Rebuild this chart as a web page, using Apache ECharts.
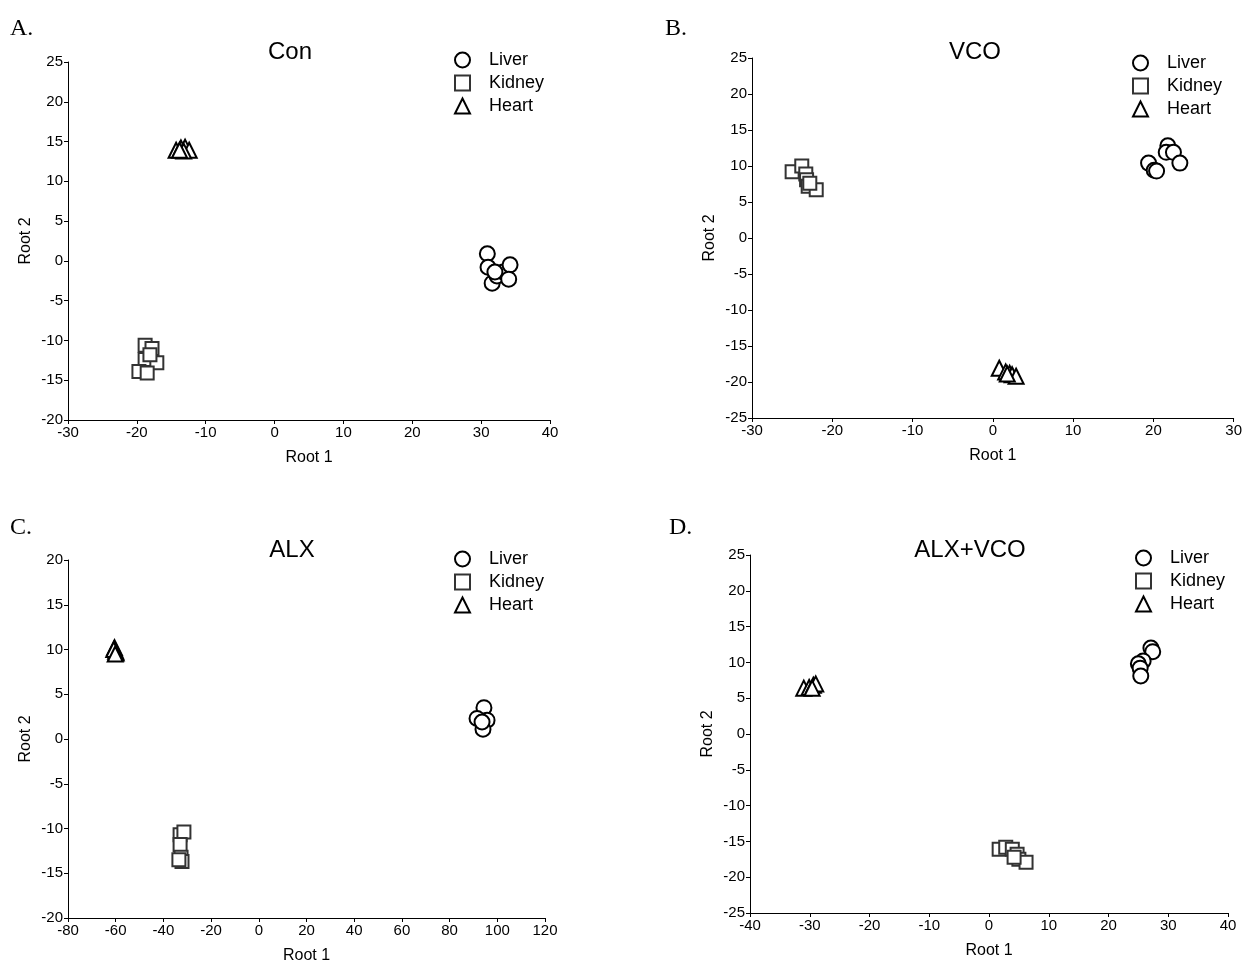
<!DOCTYPE html>
<html><head><meta charset="utf-8">
<script src="https://cdn.jsdelivr.net/npm/echarts@6/dist/echarts.min.js"></script>
<style>html,body{margin:0;padding:0;background:#fff}#c{width:1245px;height:970px}</style>
</head><body><div id="c"></div>
<script>
// ---- data ----
const panelLetters = ['A.', 'B.', 'C.', 'D.'];
const panelTitles = ['Con', 'VCO', 'ALX', 'ALX+VCO'];
const groupNames = ['Liver', 'Kidney', 'Heart'];
const xAxisName = 'Root 1';
const yAxisName = 'Root 2';

const conLiver  = [[30.9,0.9],[31.0,-0.8],[31.6,-2.8],[32.3,-1.9],[33.2,-1.4],[34.2,-0.5],[34.0,-2.3],[32.0,-1.4]];
const conKidney = [[-18.8,-10.6],[-17.8,-11.0],[-18.8,-12.4],[-17.1,-12.8],[-19.7,-13.9],[-18.5,-14.1],[-18.1,-11.8]];
const conHeart  = [[-14.3,13.9],[-13.6,14.2],[-13.0,14.3],[-12.4,13.9],[-13.2,13.8],[-13.8,13.9]];

const vcoLiver  = [[19.4,10.4],[20.1,9.4],[20.4,9.3],[21.8,12.8],[21.6,11.9],[22.5,11.9],[23.3,10.4]];
const vcoKidney = [[-25.0,9.2],[-23.8,10.0],[-23.3,8.9],[-23.2,8.1],[-23.0,7.2],[-22.0,6.7],[-22.8,7.6]];
const vcoHeart  = [[0.8,-18.1],[1.6,-18.6],[2.1,-18.8],[2.4,-19.0],[2.9,-19.2],[1.8,-18.9]];

const alxLiver  = [[94.4,3.5],[91.5,2.3],[95.7,2.1],[94.0,1.1],[93.6,1.9]];
const alxKidney = [[-33.0,-10.7],[-31.4,-10.4],[-33.0,-11.8],[-32.6,-13.2],[-32.2,-13.7],[-33.5,-13.5]];
const alxHeart  = [[-60.5,10.2],[-60.0,9.8],[-59.8,9.6],[-60.8,10.0],[-60.2,9.5]];

const avLiver   = [[27.1,12.0],[27.4,11.5],[25.8,10.2],[25.0,9.8],[25.3,9.2],[25.4,8.1]];
const avKidney  = [[1.7,-16.1],[2.8,-15.8],[3.9,-16.1],[4.7,-16.8],[5.0,-17.5],[6.2,-17.9],[4.2,-17.2]];
const avHeart   = [[-31.0,6.4],[-30.1,6.5],[-29.4,6.8],[-29.0,7.0],[-29.6,6.4]];

const xRanges = [[-30,40,10],[-30,30,10],[-80,120,20],[-40,40,10]];
const yRanges = [[-20,25,5],[-25,25,5],[-20,20,5],[-25,25,5]];
const panelData = [
  [conLiver, conKidney, conHeart],
  [vcoLiver, vcoKidney, vcoHeart],
  [alxLiver, alxKidney, alxHeart],
  [avLiver, avKidney, avHeart]
];

// ---- layout ----
const grids = [
  {left: 68, top: 62, width: 482, height: 358},
  {left: 752, top: 58, width: 483, height: 360},
  {left: 68, top: 560, width: 477, height: 358},
  {left: 750, top: 555, width: 478, height: 358}
];
const letterPos = [[5,12],[660,12],[5,511],[664,511]];
const titlePos = [[285,35],[970,35],[287,533],[965,533]];
const legendPos = [[449,46],[1127,49],[449,545],[1130,544]];

const symbols = ['emptyCircle', 'emptyRect', 'emptyTriangle'];
const symbolSizes = [15, 13, 15];
const colors = ['#000', '#333', '#000'];

const FONT = 'Liberation Sans, Arial, sans-serif';
const axisCommon = {
  axisLine: {show: true, onZero: false, lineStyle: {color: '#000', width: 1}},
  axisTick: {show: true, inside: false, length: 4, lineStyle: {color: '#000'}},
  axisLabel: {color: '#000', fontSize: 15, fontFamily: FONT, margin: 5},
  splitLine: {show: false},
  nameTextStyle: {color: '#000', fontSize: 16, fontFamily: FONT}
};

const option = {
  backgroundColor: '#fff',
  animation: false,
  grid: grids.map(g => Object.assign({containLabel: false}, g)),
  title: [],
  legend: [],
  xAxis: [],
  yAxis: [],
  series: []
};

for (let i = 0; i < 4; i++) {
  option.title.push({
    text: panelLetters[i], left: letterPos[i][0], top: letterPos[i][1],
    textStyle: {fontFamily: 'Liberation Serif, Times New Roman, serif', fontSize: 24, fontWeight: 'normal', color: '#000'}
  });
  option.title.push({
    text: panelTitles[i], left: titlePos[i][0], top: titlePos[i][1], textAlign: 'center',
    textStyle: {fontFamily: FONT, fontSize: 24, fontWeight: 'normal', color: '#000'}
  });
  option.legend.push({
    left: legendPos[i][0], top: legendPos[i][1], orient: 'vertical',
    itemWidth: 15, itemHeight: 15, itemGap: 5,
    data: groupNames.slice(),
    textStyle: {fontFamily: FONT, fontSize: 18, color: '#000', padding: [0,0,0,14]},
    selectedMode: false
  });
  option.xAxis.push(Object.assign({}, axisCommon, {
    gridIndex: i, type: 'value', min: xRanges[i][0], max: xRanges[i][1], interval: xRanges[i][2],
    name: xAxisName, nameLocation: 'middle', nameGap: 30
  }));
  option.yAxis.push(Object.assign({}, axisCommon, {
    gridIndex: i, type: 'value', min: yRanges[i][0], max: yRanges[i][1], interval: yRanges[i][2],
    name: yAxisName, nameLocation: 'middle', nameGap: 34
  }));
  for (let k = 0; k < 3; k++) {
    option.series.push({
      type: 'scatter', name: groupNames[k], xAxisIndex: i, yAxisIndex: i,
      data: panelData[i][k], symbol: symbols[k], symbolSize: symbolSizes[k],
      itemStyle: {color: colors[k], borderColor: colors[k], borderWidth: 2.5, opacity: 1},
      emphasis: {disabled: true}
    });
  }
}

const chart = echarts.init(document.getElementById('c'), null, {renderer: 'canvas'});
chart.setOption(option);
</script></body></html>
